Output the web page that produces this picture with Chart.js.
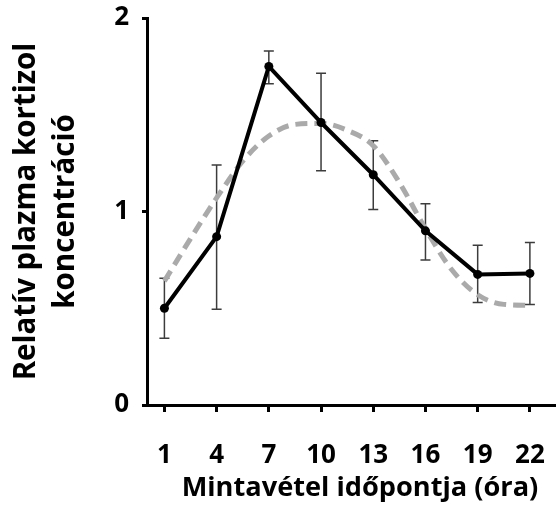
<!DOCTYPE html>
<html>
<head>
<meta charset="utf-8">
<script src="https://cdn.jsdelivr.net/npm/chart.js@4/dist/chart.umd.min.js"></script>
<style>
  html, body { margin: 0; padding: 0; background: #ffffff; }
  canvas { display: block; }
</style>
</head>
<body>
<canvas id="chart" width="556" height="510"></canvas>
<script>
// Sampling times (hours) and relative plasma cortisol, mean ± error
const hours    = [1, 4, 7, 10, 13, 16, 19, 22];
const meanConc = [0.50, 0.87, 1.75, 1.46, 1.19, 0.90, 0.675, 0.68];
const errUpper = [0.655, 1.24, 1.83, 1.715, 1.365, 1.04, 0.825, 0.84];
const errLower = [0.345, 0.495, 1.66, 1.21, 1.01, 0.75, 0.53, 0.52];

// Fitted rhythm curve (dashed)
const fitHours = [1, 2.5, 4, 5.5, 7, 8.5, 10, 11.5, 13, 14.5, 16, 17.5, 19, 20.5, 22];
const fitConc  = [0.64, 0.86, 1.07, 1.26, 1.39, 1.45, 1.455, 1.42, 1.34, 1.15, 0.91, 0.70, 0.57, 0.52, 0.515];

const yTicks = [0, 1, 2];
const xTitle = 'Mintavétel időpontja (óra)';
const yTitle = ['Relatív plazma kortizol', 'koncentráció'];

const FONT = '"Open Sans", Lato, sans-serif';

// Vertical error bars with caps, drawn under the lines
const errorBars = {
  id: 'errorBars',
  beforeDatasetsDraw(chart) {
    const { ctx, scales: { x, y } } = chart;
    ctx.save();
    ctx.strokeStyle = '#3c3c3c';
    ctx.lineWidth = 1.5;
    hours.forEach((h, i) => {
      const px = x.getPixelForValue(h);
      const top = y.getPixelForValue(errUpper[i]);
      const bot = y.getPixelForValue(errLower[i]);
      ctx.beginPath();
      ctx.moveTo(px, top); ctx.lineTo(px, bot);
      ctx.moveTo(px - 5, top); ctx.lineTo(px + 5, top);
      ctx.moveTo(px - 5, bot); ctx.lineTo(px + 5, bot);
      ctx.stroke();
    });
    ctx.restore();
  }
};

// X-axis title below the hour labels
const xAxisTitle = {
  id: 'xAxisTitle',
  afterDraw(chart) {
    const { ctx } = chart;
    ctx.save();
    ctx.fillStyle = '#000000';
    ctx.font = 'bold 27.2px ' + FONT;
    ctx.textAlign = 'center';
    ctx.textBaseline = 'middle';
    ctx.fillText(xTitle, 360, 488);
    ctx.restore();
  }
};

// Fixed axis box sizes; no extra room reserved for overhanging labels
const fixBox = size => s => {
  if (s.isHorizontal()) s.height = size; else s.width = size;
  s.paddingLeft = s.paddingRight = s.paddingTop = s.paddingBottom = 0;
};

new Chart(document.getElementById('chart'), {
  type: 'line',
  data: {
    datasets: [
      {
        data: hours.map((h, i) => ({ x: h, y: meanConc[i] })),
        borderColor: '#000000',
        backgroundColor: '#000000',
        borderWidth: 4,
        pointRadius: 4.5,
        pointHoverRadius: 4.5,
        pointBorderWidth: 0,
        tension: 0
      },
      {
        data: fitHours.map((h, i) => ({ x: h, y: fitConc[i] })),
        borderColor: '#aaaaaa',
        borderWidth: 5,
        borderDash: [12, 7],
        pointRadius: 0,
        cubicInterpolationMode: 'monotone',
        tension: 0.4
      }
    ]
  },
  options: {
    responsive: false,
    devicePixelRatio: 1,
    animation: false,
    events: [],
    layout: { autoPadding: false, padding: { top: 18, right: 0, bottom: 0, left: 0 } },
    plugins: { legend: { display: false }, tooltip: { enabled: false } },
    scales: {
      x: {
        type: 'linear',
        min: 0,
        max: 23.5,
        afterBuildTicks: s => { s.ticks = hours.map(v => ({ value: v })); },
        afterFit: fixBox(105),
        border: { display: true, color: '#000000', width: 3 },
        grid: { drawOnChartArea: false, drawTicks: true, tickLength: 7, tickWidth: 3, tickColor: '#000000' },
        ticks: { color: '#000000', font: { family: FONT, size: 26, weight: 'bold' }, padding: 28, maxRotation: 0, autoSkip: false },
        title: { display: false }
      },
      y: {
        min: 0,
        max: 2,
        afterBuildTicks: s => { s.ticks = yTicks.map(v => ({ value: v })); },
        afterFit: fixBox(147),
        border: { display: true, color: '#000000', width: 3 },
        grid: { drawOnChartArea: false, drawTicks: true, tickLength: 5, tickWidth: 3, tickColor: '#000000' },
        ticks: { color: '#000000', font: { family: FONT, size: 26, weight: 'bold' }, padding: 13 },
        title: { display: true, text: yTitle, color: '#000000', font: { family: FONT, size: 29.5, weight: 'bold', lineHeight: 1.32 }, padding: { top: 7.5, bottom: 0 } }
      }
    }
  },
  plugins: [errorBars, xAxisTitle]
});
</script>
</body>
</html>
